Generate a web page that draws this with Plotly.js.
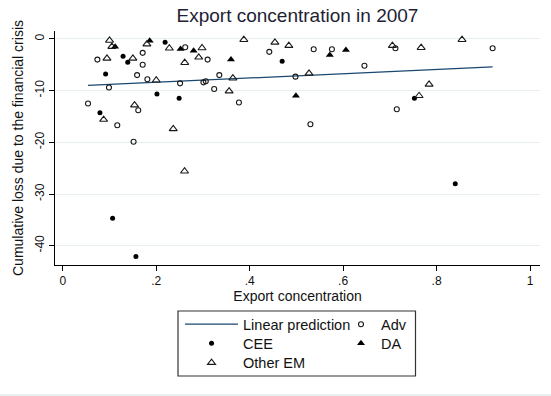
<!DOCTYPE html>
<html>
<head>
<meta charset="utf-8">
<script src="https://cdn.plot.ly/plotly-3.0.1.min.js"></script>
<style>html,body{margin:0;padding:0;background:#fff;}#chart{width:551px;height:396px;}</style>
</head>
<body>
<div id="chart"></div>
<script>
// ---- data ----
var fitX = [0.054, 0.92];
var fitY = [-9.0, -5.4];

var advX = [0.074, 0.171, 0.171, 0.262, 0.310, 0.159, 0.181, 0.0988, 0.251, 0.301, 0.306, 0.324, 0.335, 0.054, 0.1615, 0.1166, 0.1515, 0.442, 0.537, 0.576, 0.6456, 0.498, 0.377, 0.530, 0.712, 0.920, 0.7149];
var advY = [-4.0, -2.7, -5.0, -1.6, -4.0, -7.0, -7.8, -9.4, -8.6, -8.4, -8.2, -9.7, -7.0, -12.5, -13.8, -16.7, -19.9, -2.5, -2.0, -2.0, -5.2, -7.3, -12.3, -16.5, -1.8, -1.8, -13.6];

var ceeX = [0.219, 0.129, 0.139, 0.0916, 0.2015, 0.249, 0.0795, 0.4695, 0.7526, 0.1066, 0.1565, 0.84];
var ceeY = [-0.66, -3.37, -4.5, -6.8, -10.66, -11.5, -14.3, -4.3, -11.5, -34.7, -42.1, -28.0];

var daX = [0.112, 0.186, 0.252, 0.280, 0.360, 0.5715, 0.606, 0.499];
var daY = [-1.5, -0.35, -1.95, -2.3, -4.0, -3.1, -2.15, -11.0];

var emX = [0.100, 0.105, 0.180, 0.228, 0.298, 0.0945, 0.150, 0.261, 0.291, 0.200, 0.1536, 0.0874, 0.2364, 0.3875, 0.454, 0.4838, 0.364, 0.527, 0.356, 0.7055, 0.767, 0.8545, 0.784, 0.7626, 0.2606];
var emY = [-0.3, -1.5, -1.0, -1.8, -1.76, -3.76, -3.76, -4.6, -3.56, -8.0, -12.8, -15.6, -17.4, -0.15, -0.67, -1.3, -7.6, -6.66, -10.1, -1.3, -1.7, -0.15, -8.8, -11.0, -25.6];

var xTickVals = [0, 0.2, 0.4, 0.6, 0.8, 1];
var xTickText = ['0', '.2', '.4', '.6', '.8', '1'];
var yTickVals = [0, -10, -20, -30, -40];
var yTickText = ['0', '-10', '-20', '-30', '-40'];

var FONT = 'Liberation Sans, Arial, sans-serif';
var INK = '#111111';

var traces = [
  {x: fitX, y: fitY, type: 'scatter', mode: 'lines', name: 'Linear prediction',
   line: {color: '#1a476f', width: 1.2}, legend: 'legend'},
  {x: advX, y: advY, type: 'scatter', mode: 'markers', name: 'Adv',
   marker: {symbol: 'circle-open', size: 5, color: '#1a1a1a', line: {width: 1.1, color: '#1a1a1a'}}, legend: 'legend2'},
  {x: ceeX, y: ceeY, type: 'scatter', mode: 'markers', name: 'CEE',
   marker: {symbol: 'circle', size: 5, color: '#000000'}, legend: 'legend3'},
  {x: daX, y: daY, type: 'scatter', mode: 'markers', name: 'DA',
   marker: {symbol: 'triangle-up', size: 7, color: '#000000'}, legend: 'legend4'},
  {x: emX, y: emY, type: 'scatter', mode: 'markers', name: 'Other EM',
   marker: {symbol: 'triangle-up-open', size: 7, color: '#1a1a1a', line: {width: 1.1, color: '#1a1a1a'}}, legend: 'legend5'}
];

function legendBox(x, y, w) {
  return {orientation: 'v', x: x, xanchor: 'left', y: y, yanchor: 'middle',
          bgcolor: 'rgba(0,0,0,0)', borderwidth: 0, itemwidth: w,
          font: {size: 14.5, color: INK}};
}

var layout = {
  width: 551, height: 396,
  margin: {l: 55, r: 11, t: 31, b: 131},
  paper_bgcolor: '#ffffff', plot_bgcolor: '#ffffff',
  font: {family: FONT, color: INK, size: 12},
  title: {text: 'Export concentration in 2007', font: {family: FONT, size: 19, color: '#1e2233'},
          xref: 'paper', x: 0.5, xanchor: 'center', yref: 'container', y: 0.962, yanchor: 'middle'},
  xaxis: {range: [-0.0167, 1.0214], tickvals: xTickVals, ticktext: xTickText,
          showline: true, linecolor: '#000', linewidth: 1, ticks: 'outside', ticklen: 5, tickcolor: '#000',
          showgrid: false, zeroline: false, tickfont: {size: 12, color: INK},
          title: {text: 'Export concentration', font: {size: 14, color: INK}, standoff: 0}},
  yaxis: {range: [-43.73, 1.53], tickvals: yTickVals, ticktext: yTickText, tickangle: -90,
          showline: true, linecolor: '#000', linewidth: 1, ticks: 'outside', ticklen: 5, tickcolor: '#000',
          showgrid: true, gridcolor: '#e6eef2', gridwidth: 1, zeroline: false, tickfont: {size: 12, color: INK},
          title: {text: 'Cumulative loss due to the financial crisis', font: {size: 14, color: INK}, standoff: 6}},
  showlegend: true,
  legend: legendBox(0.2578, -0.2534, 53),
  legend2: legendBox(0.5897, -0.2534, 30),
  legend3: legendBox(0.2578, -0.3346, 53),
  legend4: legendBox(0.5897, -0.3346, 30),
  legend5: legendBox(0.2578, -0.4175, 53),
  shapes: [
    {type: 'rect', xref: 'paper', yref: 'paper', x0: 0.2536, x1: 0.7433, y0: -0.4744, y1: -0.1966,
     line: {color: '#333333', width: 1.2}, fillcolor: 'rgba(0,0,0,0)', layer: 'below'},
    {type: 'line', xref: 'paper', yref: 'paper', x0: -0.12, x1: 1.03, y0: -0.5556, y1: -0.5556,
     line: {color: '#e3eaec', width: 1.5}}
  ]
};

Plotly.newPlot('chart', traces, layout, {displayModeBar: false, staticPlot: true});
</script>
</body>
</html>
